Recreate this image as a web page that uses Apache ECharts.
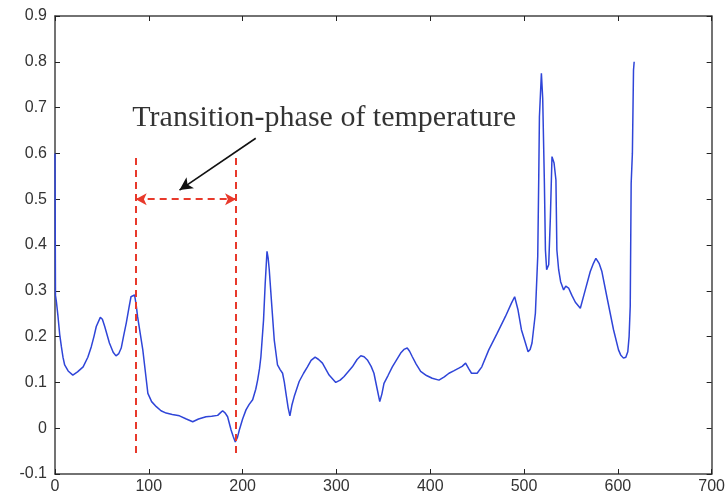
<!DOCTYPE html>
<html>
<head>
<meta charset="utf-8">
<script src="https://cdn.jsdelivr.net/npm/echarts@6/dist/echarts.min.js"></script>
<style>
  html, body { margin: 0; padding: 0; background: #fff; }
  #chart { width: 728px; height: 501px; }
</style>
</head>
<body>
<div id="chart"></div>
<script>
// Signal samples: position and value
const xs = [0, 0.5, 1.5, 3.2, 5, 6.8, 8.5, 10.3, 14, 19, 24, 30, 35, 38.7, 41.5, 44, 48.3, 50.5, 53, 58, 62, 65, 68, 70.6, 73, 76, 79, 81, 83, 84.8, 86.5, 88, 91, 93.6, 96.5, 99, 103, 108, 113, 118.5, 125, 132.7, 140, 146.8, 153, 161, 167, 173.4, 176.5, 178.7, 181.5, 184, 187.7, 190, 192.2, 194.5, 196.5, 200, 203.6, 207, 210.7, 214, 216, 218, 219.5, 222.3, 224.1, 226, 227.3, 228.4, 230.9, 233.7, 237.2, 240, 242.6, 244.5, 246.2, 248.5, 250.4, 252.5, 255, 260.3, 265, 269.1, 273, 277.3, 281, 285.1, 292.2, 299.3, 304, 308.2, 317, 322, 326, 329.5, 333, 337, 340, 343.6, 346.2, 348.5, 350.7, 355, 359.6, 368.5, 372, 375.5, 378, 380.9, 385, 389.8, 396, 402.1, 409.3, 415, 420, 425, 430.5, 434, 437.7, 441, 444, 450, 455, 462.4, 471.3, 480.2, 486.6, 490, 493.6, 497.2, 501.5, 504.3, 506.5, 508.5, 512.1, 514.6, 515.7, 516.4, 518.5, 519.9, 521.7, 522.8, 524.1, 526.3, 528.1, 529.8, 532, 534, 535, 536.9, 539, 542.2, 544.5, 547.5, 551, 554.7, 560, 565.3, 570.6, 574, 576.6, 580, 583, 588.3, 595.4, 600.7, 603, 606, 608.5, 610.6, 612, 613.2, 614.2, 615.5, 616.7, 617.4];
const ys = [0.6, 0.29, 0.276, 0.244, 0.205, 0.178, 0.155, 0.138, 0.125, 0.116, 0.123, 0.134, 0.155, 0.178, 0.2, 0.222, 0.242, 0.238, 0.222, 0.186, 0.166, 0.158, 0.163, 0.175, 0.2, 0.23, 0.265, 0.287, 0.29, 0.291, 0.27, 0.244, 0.205, 0.171, 0.12, 0.076, 0.058, 0.047, 0.038, 0.033, 0.03, 0.027, 0.02, 0.014, 0.02, 0.025, 0.026, 0.028, 0.034, 0.038, 0.033, 0.025, -0.004, -0.018, -0.03, -0.02, -0.004, 0.02, 0.04, 0.052, 0.062, 0.085, 0.105, 0.13, 0.156, 0.236, 0.317, 0.386, 0.37, 0.346, 0.273, 0.193, 0.138, 0.128, 0.12, 0.1, 0.076, 0.045, 0.027, 0.05, 0.069, 0.102, 0.12, 0.134, 0.148, 0.155, 0.15, 0.142, 0.116, 0.1, 0.105, 0.113, 0.134, 0.15, 0.158, 0.156, 0.149, 0.135, 0.12, 0.084, 0.058, 0.075, 0.098, 0.115, 0.134, 0.164, 0.172, 0.175, 0.168, 0.156, 0.14, 0.124, 0.115, 0.109, 0.105, 0.112, 0.12, 0.125, 0.131, 0.135, 0.142, 0.13, 0.12, 0.12, 0.134, 0.171, 0.207, 0.244, 0.273, 0.287, 0.258, 0.215, 0.186, 0.167, 0.172, 0.186, 0.251, 0.375, 0.55, 0.68, 0.775, 0.72, 0.535, 0.389, 0.346, 0.357, 0.462, 0.593, 0.579, 0.542, 0.389, 0.346, 0.32, 0.302, 0.31, 0.306, 0.29, 0.275, 0.262, 0.302, 0.342, 0.36, 0.371, 0.36, 0.342, 0.287, 0.215, 0.171, 0.16, 0.153, 0.155, 0.167, 0.2, 0.266, 0.535, 0.6, 0.782, 0.8];

// Axis ranges and ticks
const xTicks = [0, 100, 200, 300, 400, 500, 600, 700];
const yTicks = [-0.1, 0, 0.1, 0.2, 0.3, 0.4, 0.5, 0.6, 0.7, 0.8, 0.9];

// Annotation: bounds of the transition phase
const phaseStart = 86;
const phaseEnd = 193;
const phaseTop = 0.59;
const phaseBottom = -0.063;
const spanLevel = 0.5;
const pointerFrom = [214, 0.633];
const pointerTo = [132.7, 0.52];
const noteText = 'Transition-phase of temperature';
const notePos = [287, 0.677];

const chart = echarts.init(document.getElementById('chart'), null, { renderer: 'canvas' });

const axisColor = '#444';
const labelStyle = { color: '#333', fontSize: 16, fontFamily: 'Liberation Sans, Arial, sans-serif' };

const fmt = v => {
  const r = Math.round(v * 10) / 10;
  return r === 0 ? '0' : String(r);
};

const redDash = { color: '#e8392b', type: [7, 5], width: 2 };

chart.setOption({
  animation: false,
  backgroundColor: '#fff',
  grid: { left: 55, right: 15, top: 16, bottom: 27, containLabel: false },
  xAxis: [
    {
      type: 'value', min: xTicks[0], max: xTicks[xTicks.length - 1], interval: 100,
      axisLine: { show: true, onZero: false, lineStyle: { color: axisColor, width: 1.5 } },
      axisTick: { show: true, inside: true, length: 5, lineStyle: { color: '#222' } },
      axisLabel: Object.assign({ margin: 5, formatter: fmt }, labelStyle),
      splitLine: { show: false }
    },
    {
      type: 'value', position: 'top', min: xTicks[0], max: xTicks[xTicks.length - 1], interval: 100,
      axisLine: { show: true, onZero: false, lineStyle: { color: axisColor, width: 1.5 } },
      axisTick: { show: true, inside: true, length: 5, lineStyle: { color: '#222' } },
      axisLabel: { show: false },
      splitLine: { show: false }
    }
  ],
  yAxis: [
    {
      type: 'value', min: yTicks[0], max: yTicks[yTicks.length - 1], interval: 0.1,
      axisLine: { show: true, onZero: false, lineStyle: { color: axisColor, width: 1.5 } },
      axisTick: { show: true, inside: true, length: 5, lineStyle: { color: '#222' } },
      axisLabel: Object.assign({ margin: 8, formatter: fmt }, labelStyle),
      splitLine: { show: false }
    },
    {
      type: 'value', position: 'right', min: yTicks[0], max: yTicks[yTicks.length - 1], interval: 0.1,
      axisLine: { show: true, onZero: false, lineStyle: { color: axisColor, width: 1.5 } },
      axisTick: { show: true, inside: true, length: 5, lineStyle: { color: '#222' } },
      axisLabel: { show: false },
      splitLine: { show: false }
    }
  ],
  series: [
    {
      type: 'line',
      data: xs.map((x, i) => [x, ys[i]]),
      showSymbol: false,
      symbol: 'none',
      smooth: false,
      lineStyle: { color: '#2f45d8', width: 1.5 },
      z: 3
    },
    {
      // transition-phase markers and the pointer
      type: 'line',
      data: [],
      silent: true,
      markLine: {
        silent: true,
        animation: false,
        label: { show: false },
        emphasis: { disabled: true },
        data: [
          [
            { coord: [phaseStart, phaseTop], symbol: 'none', lineStyle: redDash },
            { coord: [phaseStart, phaseBottom], symbol: 'none' }
          ],
          [
            { coord: [phaseEnd, phaseTop], symbol: 'none', lineStyle: redDash },
            { coord: [phaseEnd, phaseBottom], symbol: 'none' }
          ],
          [
            { coord: [phaseStart, spanLevel], symbol: 'arrow', symbolSize: [9, 11], lineStyle: redDash },
            { coord: [phaseEnd, spanLevel], symbol: 'arrow', symbolSize: [9, 11] }
          ],
          [
            { coord: pointerFrom, symbol: 'none', lineStyle: { color: '#111', type: 'solid', width: 1.6 } },
            { coord: pointerTo, symbol: 'arrow', symbolSize: [10, 13] }
          ]
        ]
      },
      z: 4
    },
    {
      type: 'scatter',
      data: [notePos],
      symbolSize: 0,
      silent: true,
      label: {
        show: true,
        position: 'inside',
        formatter: noteText,
        fontFamily: 'Liberation Serif, Times New Roman, serif',
        fontSize: 30,
        color: '#000'
      },
      z: 5
    }
  ]
});
</script>
</body>
</html>
